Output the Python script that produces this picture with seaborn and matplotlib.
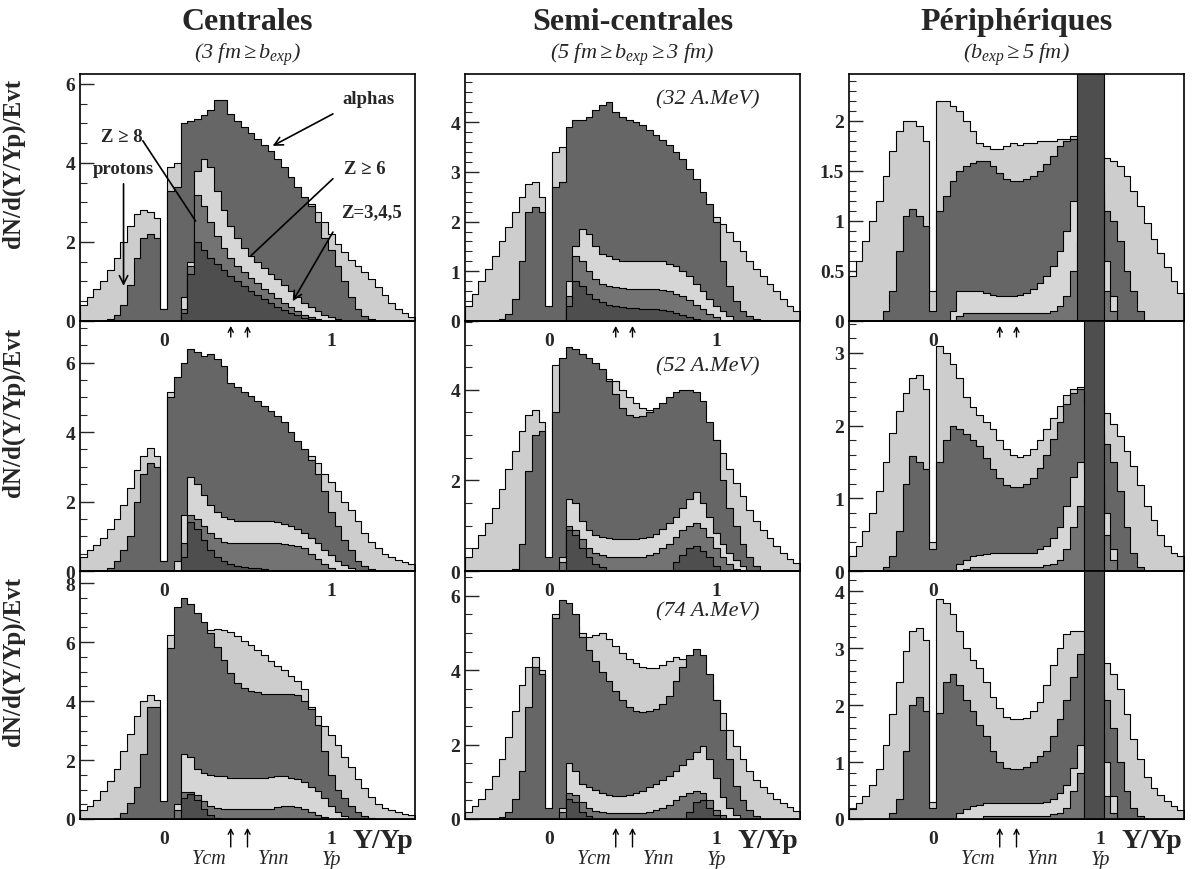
import numpy as np
import pandas as pd
import matplotlib
matplotlib.use("Agg")
import matplotlib.pyplot as plt
import seaborn as sns
from matplotlib.ticker import MultipleLocator, FormatStrFormatter

sns.set_style("ticks")
plt.rcParams['font.family'] = ['Liberation Serif', 'DejaVu Serif']
plt.rcParams['font.weight'] = 'bold'
plt.rcParams['mathtext.fontset'] = 'custom'
plt.rcParams['mathtext.it'] = 'Liberation Serif:italic:normal'
plt.rcParams['mathtext.rm'] = 'Liberation Serif:italic:normal'
plt.rcParams['mathtext.default'] = 'it'
plt.rcParams['mathtext.fallback'] = 'stix'

# bins of Y/Yp, 0.04 wide from -0.5 to 1.5 (50 bins)
n_bins = 50
y_range = (-0.5, 1.5)
edges = np.linspace(y_range[0], y_range[1], n_bins + 1)
centers = (edges[:-1] + edges[1:]) / 2

col_titles = ['Centrales', 'Semi-centrales', 'Périphériques']
col_sub = [r'$\mathit{(3\ fm}\geq\mathit{b_{exp})}$',
           r'$\mathit{(5\ fm}{\geq}\mathit{b_{exp}}{\geq}\mathit{3\ fm)}$',
           r'$\mathit{(b_{exp}}{\geq}\mathit{5\ fm)}$']
energies = ['(32 A.MeV)', '(52 A.MeV)', '(74 A.MeV)']

# ---------------- 32 A.MeV ----------------
# centrales
p_c32 = [0.4, 0.6, 0.8, 1.0, 1.3, 1.6, 2.0, 2.4, 2.7, 2.8,
         2.75, 2.6, 0.3, 3.9, 4.0, 3.9, 3.8, 3.7, 3.6, 3.5,
         3.45, 3.4, 3.35, 3.3, 3.3, 3.25, 3.2, 3.2, 3.15, 3.1,
         3.05, 3.0, 2.95, 2.95, 2.95, 2.75, 2.5, 2.2, 1.95, 1.75,
         1.55, 1.4, 1.25, 1.05, 0.85, 0.65, 0.45, 0.3, 0.2, 0.1]
a_c32 = [0, 0, 0, 0, 0.05, 0.15, 0.4, 0.9, 1.6, 2.1,
         2.2, 2.1, 0.3, 3.3, 3.4, 5.0, 5.05, 5.1, 5.2, 5.35,
         5.6, 5.6, 5.25, 5.05, 4.9, 4.75, 4.6, 4.45, 4.3, 4.1,
         3.9, 3.65, 3.4, 3.15, 2.9, 2.5, 2.1, 1.8, 1.4, 1.0,
         0.6, 0.3, 0.12, 0.04, 0, 0, 0, 0, 0, 0]
z345_c32 = [0, 0, 0, 0, 0, 0, 0, 0, 0, 0,
            0, 0, 0, 0, 0, 0.6, 1.5, 3.8, 4.1, 3.9,
            3.3, 2.8, 2.4, 2.1, 1.85, 1.65, 1.5, 1.35, 1.2, 1.05,
            0.9, 0.75, 0.6, 0.45, 0.35, 0.25, 0.15, 0.1, 0.05, 0,
            0, 0, 0, 0, 0, 0, 0, 0, 0, 0]
z6_c32 = [0, 0, 0, 0, 0, 0, 0, 0, 0, 0,
          0, 0, 0, 0, 0, 0.3, 1.4, 3.2, 2.9, 2.5,
          2.15, 1.85, 1.6, 1.4, 1.25, 1.1, 0.95, 0.82, 0.7, 0.58,
          0.46, 0.35, 0.25, 0.16, 0.1, 0.05, 0, 0, 0, 0,
          0, 0, 0, 0, 0, 0, 0, 0, 0, 0]
z8_c32 = [0, 0, 0, 0, 0, 0, 0, 0, 0, 0,
          0, 0, 0, 0, 0, 0.2, 1.2, 2.0, 1.8, 1.6,
          1.45, 1.3, 1.15, 1.0, 0.88, 0.76, 0.65, 0.55, 0.45, 0.36,
          0.28, 0.2, 0.14, 0.08, 0.04, 0, 0, 0, 0, 0,
          0, 0, 0, 0, 0, 0, 0, 0, 0, 0]
# semi-centrales
p_s32 = [0.3, 0.55, 0.8, 1.05, 1.3, 1.6, 1.9, 2.2, 2.5, 2.75,
         2.8, 2.5, 0.2, 3.4, 3.5, 3.4, 3.35, 3.3, 3.25, 3.2,
         3.15, 3.1, 3.05, 3.0, 2.95, 2.9, 2.85, 2.8, 2.75, 2.7,
         2.65, 2.6, 2.5, 2.45, 2.4, 2.3, 2.2, 2.1, 1.95, 1.8,
         1.6, 1.4, 1.2, 1.05, 0.9, 0.75, 0.6, 0.45, 0.3, 0.2]
a_s32 = [0, 0, 0, 0, 0, 0.05, 0.15, 0.45, 1.2, 2.2,
         2.3, 2.2, 0.3, 2.7, 2.8, 3.9, 4.05, 4.05, 4.1, 4.25,
         4.35, 4.4, 4.2, 4.1, 4.05, 4.0, 3.95, 3.85, 3.75, 3.65,
         3.55, 3.4, 3.25, 3.05, 2.85, 2.6, 2.35, 2.0, 1.2, 0.7,
         0.4, 0.2, 0.1, 0.05, 0, 0, 0, 0, 0, 0]
z345_s32 = [0, 0, 0, 0, 0, 0, 0, 0, 0, 0,
            0, 0, 0, 0, 0, 0.8, 1.5, 1.85, 1.75, 1.5,
            1.35, 1.3, 1.25, 1.2, 1.2, 1.2, 1.2, 1.2, 1.2, 1.2,
            1.15, 1.1, 1.0, 0.9, 0.75, 0.6, 0.45, 0.3, 0.2, 0.1,
            0, 0, 0, 0, 0, 0, 0, 0, 0, 0]
z6_s32 = [0, 0, 0, 0, 0, 0, 0, 0, 0, 0,
          0, 0, 0, 0, 0, 0.5, 1.3, 1.2, 1.0, 0.85,
          0.75, 0.7, 0.68, 0.66, 0.65, 0.65, 0.65, 0.65, 0.65, 0.63,
          0.6, 0.55, 0.5, 0.42, 0.33, 0.25, 0.15, 0.08, 0, 0,
          0, 0, 0, 0, 0, 0, 0, 0, 0, 0]
z8_s32 = [0, 0, 0, 0, 0, 0, 0, 0, 0, 0,
          0, 0, 0, 0, 0, 0.3, 0.8, 0.7, 0.55, 0.45,
          0.38, 0.33, 0.3, 0.28, 0.27, 0.26, 0.25, 0.25, 0.25, 0.22,
          0.2, 0.16, 0.12, 0.08, 0.04, 0, 0, 0, 0, 0,
          0, 0, 0, 0, 0, 0, 0, 0, 0, 0]
# peripheriques
p_p32 = [0.45, 0.6, 0.8, 1.0, 1.2, 1.45, 1.7, 1.9, 2.0, 2.0,
         1.95, 1.8, 0.3, 2.2, 2.2, 2.15, 2.1, 2.0, 1.9, 1.78,
         1.75, 1.72, 1.72, 1.75, 1.78, 1.76, 1.78, 1.78, 1.8, 1.8,
         1.8, 1.82, 1.82, 1.85, 1.85, 1.85, 1.8, 1.7, 1.63, 1.6,
         1.55, 1.45, 1.3, 1.15, 0.98, 0.82, 0.68, 0.54, 0.4, 0.28]
a_p32 = [0, 0, 0, 0, 0, 0.1, 0.3, 0.7, 1.05, 1.12,
         1.05, 0.95, 0.1, 1.1, 1.25, 1.4, 1.5, 1.55, 1.58, 1.6,
         1.6, 1.55, 1.48, 1.42, 1.4, 1.4, 1.42, 1.45, 1.5, 1.57,
         1.65, 1.75, 1.8, 1.82, 1.85, 1.7, 1.5, 1.3, 1.1, 1.0,
         0.8, 0.5, 0.3, 0.1, 0, 0, 0, 0, 0, 0]
z345_p32 = [0, 0, 0, 0, 0, 0, 0, 0, 0, 0,
            0, 0, 0, 0, 0, 0.1, 0.3, 0.3, 0.3, 0.3,
            0.28, 0.26, 0.25, 0.25, 0.25, 0.26, 0.28, 0.32, 0.38, 0.45,
            0.55, 0.7, 0.9, 1.2, 1.2, 1.2, 1.2, 1.2, 0.6, 0.25,
            0, 0, 0, 0, 0, 0, 0, 0, 0, 0]
z6_p32 = [0, 0, 0, 0, 0, 0, 0, 0, 0, 0,
          0, 0, 0, 0, 0, 0, 0.05, 0.08, 0.08, 0.08,
          0.08, 0.08, 0.08, 0.08, 0.08, 0.08, 0.08, 0.08, 0.08, 0.08,
          0.1, 0.15, 0.25, 0.5, 0.8, 0.8, 0.8, 0.8, 0.3, 0.1,
          0, 0, 0, 0, 0, 0, 0, 0, 0, 0]
z8_p32 = [0, 0, 0, 0, 0, 0, 0, 0, 0, 0,
          0, 0, 0, 0, 0, 0, 0, 0, 0, 0,
          0, 0, 0, 0, 0, 0, 0, 0, 0, 0,
          0, 0, 0, 0, 5.0, 5.0, 5.0, 5.0, 0, 0,
          0, 0, 0, 0, 0, 0, 0, 0, 0, 0]

# ---------------- 52 A.MeV ----------------
p_c52 = [0.4, 0.6, 0.75, 0.95, 1.2, 1.5, 1.9, 2.4, 2.9, 3.3,
         3.55, 3.3, 0.3, 5.15, 5.2, 5.1, 5.0, 4.95, 4.9, 4.85,
         4.8, 4.7, 4.6, 4.5, 4.4, 4.3, 4.2, 4.1, 4.0, 3.9,
         3.8, 3.7, 3.6, 3.45, 3.3, 3.1, 2.8, 2.55, 2.3, 2.0,
         1.75, 1.45, 1.1, 0.85, 0.65, 0.5, 0.4, 0.32, 0.25, 0.2]
a_c52 = [0, 0, 0, 0, 0.1, 0.3, 0.6, 1.0, 2.0, 2.8,
         3.1, 3.0, 0.3, 5.0, 5.6, 6.0, 6.4, 6.3, 6.2, 6.25,
         6.1, 5.9, 5.4, 5.3, 5.15, 5.05, 4.9, 4.75, 4.6, 4.45,
         4.3, 4.0, 3.75, 3.5, 3.2, 2.8, 2.3, 1.7, 1.3, 0.9,
         0.6, 0.3, 0.15, 0.05, 0, 0, 0, 0, 0, 0]
z345_c52 = [0, 0, 0, 0, 0, 0, 0, 0, 0, 0,
            0, 0, 0, 0, 0.3, 1.6, 2.7, 2.5, 2.2, 1.9,
            1.7, 1.55, 1.5, 1.45, 1.45, 1.45, 1.45, 1.45, 1.45, 1.4,
            1.35, 1.3, 1.2, 1.1, 0.95, 0.8, 0.6, 0.45, 0.3, 0.18,
            0.08, 0, 0, 0, 0, 0, 0, 0, 0, 0]
z6_c52 = [0, 0, 0, 0, 0, 0, 0, 0, 0, 0,
          0, 0, 0, 0, 0, 0.8, 1.6, 1.5, 1.3, 1.1,
          0.95, 0.85, 0.8, 0.8, 0.8, 0.8, 0.8, 0.8, 0.8, 0.8,
          0.78, 0.75, 0.72, 0.65, 0.5, 0.35, 0.2, 0.1, 0, 0,
          0, 0, 0, 0, 0, 0, 0, 0, 0, 0]
z8_c52 = [0, 0, 0, 0, 0, 0, 0, 0, 0, 0,
          0, 0, 0, 0, 0, 0.4, 1.4, 1.2, 0.9, 0.6,
          0.4, 0.3, 0.2, 0.15, 0.12, 0.1, 0.08, 0.05, 0, 0,
          0, 0, 0, 0, 0, 0, 0, 0, 0, 0,
          0, 0, 0, 0, 0, 0, 0, 0, 0, 0]
p_s52 = [0.3, 0.5, 0.8, 1.05, 1.4, 1.8, 2.25, 2.65, 3.1, 3.45,
         3.55, 3.3, 0.2, 4.55, 4.6, 4.6, 4.55, 4.5, 4.4, 4.35,
         4.3, 4.25, 4.2, 4.0, 3.85, 3.7, 3.6, 3.55, 3.5, 3.45,
         3.4, 3.4, 3.35, 3.3, 3.25, 3.2, 3.1, 2.9, 2.6, 2.25,
         1.95, 1.65, 1.35, 1.1, 0.9, 0.72, 0.55, 0.4, 0.27, 0.17]
a_s52 = [0, 0, 0, 0, 0, 0, 0, 0.05, 0.6, 2.2,
         3.0, 3.1, 0.3, 3.5, 4.7, 4.95, 4.9, 4.8, 4.7, 4.6,
         4.45, 4.2, 3.9, 3.6, 3.45, 3.4, 3.42, 3.5, 3.6, 3.7,
         3.85, 3.95, 4.0, 4.0, 3.95, 3.75, 3.3, 2.9, 2.0, 1.4,
         1.0, 0.6, 0.3, 0.1, 0, 0, 0, 0, 0, 0]
z345_s52 = [0, 0, 0, 0, 0, 0, 0, 0, 0, 0,
            0, 0, 0, 0, 0.3, 1.6, 1.5, 1.1, 0.9, 0.8,
            0.75, 0.72, 0.7, 0.7, 0.7, 0.7, 0.72, 0.75, 0.82, 0.92,
            1.05, 1.2, 1.4, 1.6, 1.75, 1.5, 1.2, 0.85, 0.6, 0.4,
            0.25, 0.1, 0, 0, 0, 0, 0, 0, 0, 0]
z6_s52 = [0, 0, 0, 0, 0, 0, 0, 0, 0, 0,
          0, 0, 0, 0, 0.2, 1.0, 0.9, 0.7, 0.5, 0.4,
          0.35, 0.3, 0.3, 0.3, 0.3, 0.3, 0.32, 0.35, 0.4, 0.5,
          0.6, 0.75, 0.9, 1.0, 1.05, 0.95, 0.75, 0.5, 0.3, 0.15,
          0.05, 0, 0, 0, 0, 0, 0, 0, 0, 0]
z8_s52 = [0, 0, 0, 0, 0, 0, 0, 0, 0, 0,
          0, 0, 0, 0, 0, 0.9, 0.8, 0.5, 0.3, 0.15,
          0.08, 0, 0, 0, 0, 0, 0, 0, 0, 0,
          0, 0.2, 0.35, 0.5, 0.55, 0.45, 0.3, 0.1, 0, 0,
          0, 0, 0, 0, 0, 0, 0, 0, 0, 0]
p_p52 = [0.2, 0.35, 0.55, 0.8, 1.1, 1.5, 1.9, 2.2, 2.45, 2.65,
         2.7, 2.5, 0.4, 3.1, 3.0, 2.85, 2.65, 2.4, 2.25, 2.15,
         2.05, 1.95, 1.8, 1.68, 1.6, 1.57, 1.6, 1.68, 1.8, 1.95,
         2.1, 2.27, 2.42, 2.5, 2.53, 2.5, 2.4, 2.3, 2.18, 2.02,
         1.86, 1.65, 1.45, 1.18, 0.9, 0.7, 0.5, 0.35, 0.25, 0.2]
a_p52 = [0, 0, 0, 0, 0, 0.05, 0.2, 0.55, 1.2, 1.58,
         1.5, 1.4, 0.3, 1.5, 1.8, 2.0, 1.95, 1.88, 1.8, 1.72,
         1.55, 1.4, 1.28, 1.18, 1.15, 1.15, 1.2, 1.28, 1.42, 1.6,
         1.82, 2.05, 2.3, 2.45, 2.5, 2.3, 2.1, 1.9, 1.75, 1.5,
         1.1, 0.6, 0.25, 0.05, 0, 0, 0, 0, 0, 0]
z345_p52 = [0, 0, 0, 0, 0, 0, 0, 0, 0, 0,
            0, 0, 0, 0, 0, 0, 0.1, 0.15, 0.2, 0.22,
            0.24, 0.25, 0.25, 0.25, 0.25, 0.25, 0.25, 0.25, 0.3, 0.35,
            0.45, 0.6, 0.9, 1.3, 1.5, 1.4, 1.3, 1.2, 0.8, 0.3,
            0, 0, 0, 0, 0, 0, 0, 0, 0, 0]
z6_p52 = [0, 0, 0, 0, 0, 0, 0, 0, 0, 0,
          0, 0, 0, 0, 0, 0, 0, 0.03, 0.05, 0.05,
          0.05, 0.05, 0.05, 0.05, 0.05, 0.05, 0.05, 0.05, 0.05, 0.08,
          0.1, 0.15, 0.3, 0.6, 0.9, 1.0, 1.0, 1.0, 0.5, 0.15,
          0, 0, 0, 0, 0, 0, 0, 0, 0, 0]
z8_p52 = [0, 0, 0, 0, 0, 0, 0, 0, 0, 0,
          0, 0, 0, 0, 0, 0, 0, 0, 0, 0,
          0, 0, 0, 0, 0, 0, 0, 0, 0, 0,
          0, 0, 0, 0, 0, 6.0, 6.0, 6.0, 0, 0,
          0, 0, 0, 0, 0, 0, 0, 0, 0, 0]

# ---------------- 74 A.MeV ----------------
p_c74 = [0.3, 0.45, 0.65, 0.95, 1.3, 1.7, 2.3, 2.9, 3.5, 4.0,
         4.2, 4.05, 0.3, 6.25, 6.3, 6.35, 6.4, 6.4, 6.4, 6.4,
         6.45, 6.4, 6.35, 6.2, 6.05, 5.9, 5.75, 5.55, 5.35, 5.2,
         5.05, 4.85, 4.7, 4.4, 3.8, 3.5, 3.15, 2.85, 2.5, 2.1,
         1.75, 1.35, 1.05, 0.75, 0.5, 0.38, 0.3, 0.25, 0.18, 0.12]
a_c74 = [0, 0, 0, 0, 0, 0.05, 0.2, 0.55, 1.1, 2.2,
         3.8, 3.8, 0.6, 5.8, 7.2, 7.5, 7.3, 7.0, 6.7, 6.3,
         5.85, 5.4, 4.95, 4.6, 4.45, 4.35, 4.3, 4.25, 4.25, 4.25,
         4.25, 4.25, 4.2, 4.0, 3.75, 3.2, 2.3, 1.5, 1.0, 0.7,
         0.45, 0.25, 0.1, 0.03, 0, 0, 0, 0, 0, 0]
z345_c74 = [0, 0, 0, 0, 0, 0, 0, 0, 0, 0,
            0, 0, 0, 0, 0.5, 2.2, 2.1, 1.7, 1.55, 1.5,
            1.45, 1.45, 1.4, 1.4, 1.4, 1.4, 1.4, 1.4, 1.42, 1.45,
            1.45, 1.4, 1.35, 1.25, 1.1, 0.95, 0.7, 0.45, 0.25, 0.1,
            0, 0, 0, 0, 0, 0, 0, 0, 0, 0]
z6_c74 = [0, 0, 0, 0, 0, 0, 0, 0, 0, 0,
          0, 0, 0, 0, 0.3, 0.9, 0.9, 0.8, 0.6, 0.45,
          0.38, 0.35, 0.35, 0.35, 0.35, 0.35, 0.35, 0.35, 0.35, 0.4,
          0.45, 0.45, 0.42, 0.35, 0.25, 0.15, 0.08, 0, 0, 0,
          0, 0, 0, 0, 0, 0, 0, 0, 0, 0]
z8_c74 = [0, 0, 0, 0, 0, 0, 0, 0, 0, 0,
          0, 0, 0, 0, 0, 0.7, 0.85, 0.65, 0.35, 0.15,
          0.05, 0, 0, 0, 0, 0, 0, 0, 0, 0,
          0, 0, 0, 0, 0, 0, 0, 0, 0, 0,
          0, 0, 0, 0, 0, 0, 0, 0, 0, 0]
p_s74 = [0.2, 0.35, 0.55, 0.8, 1.15, 1.6, 2.2, 2.9, 3.6, 4.1,
         4.35, 4.0, 0.2, 5.5, 5.5, 5.4, 5.2, 5.0, 4.9, 4.95,
         5.0, 4.85, 4.65, 4.45, 4.3, 4.2, 4.1, 4.05, 4.05, 4.15,
         4.25, 4.35, 4.3, 4.2, 4.1, 3.9, 3.6, 3.2, 2.85, 2.4,
         1.95, 1.6, 1.3, 1.05, 0.85, 0.7, 0.55, 0.42, 0.32, 0.22]
a_s74 = [0, 0, 0, 0, 0, 0.05, 0.2, 0.55, 1.3, 3.0,
         4.1, 3.9, 0.3, 5.4, 5.9, 5.8, 5.5, 4.9, 4.55, 4.25,
         3.95, 3.7, 3.45, 3.2, 3.0, 2.9, 2.87, 2.9, 2.96, 3.1,
         3.3, 3.7, 4.1, 4.4, 4.57, 4.4, 3.9, 3.2, 2.4, 1.6,
         0.9, 0.5, 0.25, 0.08, 0, 0, 0, 0, 0, 0]
z345_s74 = [0, 0, 0, 0, 0, 0, 0, 0, 0, 0,
            0, 0, 0, 0, 0.3, 1.5, 1.3, 0.95, 0.85, 0.78,
            0.7, 0.65, 0.62, 0.62, 0.65, 0.7, 0.75, 0.85, 0.95, 1.05,
            1.15, 1.3, 1.45, 1.6, 1.8, 1.95, 1.6, 1.1, 0.6, 0.3,
            0.1, 0, 0, 0, 0, 0, 0, 0, 0, 0]
z6_s74 = [0, 0, 0, 0, 0, 0, 0, 0, 0, 0,
          0, 0, 0, 0, 0.2, 0.7, 0.65, 0.45, 0.3, 0.22,
          0.18, 0.15, 0.15, 0.15, 0.15, 0.15, 0.17, 0.2, 0.25, 0.3,
          0.38, 0.5, 0.62, 0.7, 0.75, 0.7, 0.5, 0.25, 0.1, 0,
          0, 0, 0, 0, 0, 0, 0, 0, 0, 0]
z8_s74 = [0, 0, 0, 0, 0, 0, 0, 0, 0, 0,
          0, 0, 0, 0, 0, 0.55, 0.45, 0.2, 0.08, 0,
          0, 0, 0, 0, 0, 0, 0, 0, 0, 0,
          0, 0, 0, 0.2, 0.45, 0.5, 0.3, 0.1, 0, 0,
          0, 0, 0, 0, 0, 0, 0, 0, 0, 0]
p_p74 = [0.18, 0.28, 0.4, 0.6, 0.88, 1.3, 1.85, 2.4, 2.95, 3.3,
         3.35, 3.15, 0.3, 3.87, 3.8, 3.6, 3.3, 3.0, 2.8, 2.65,
         2.4, 2.15, 1.95, 1.8, 1.75, 1.75, 1.78, 1.9, 2.05, 2.35,
         2.7, 3.0, 3.25, 3.3, 3.3, 3.2, 3.0, 2.85, 2.75, 2.55,
         2.28, 1.85, 1.4, 1.05, 0.74, 0.55, 0.42, 0.32, 0.22, 0.16]
a_p74 = [0, 0, 0, 0, 0, 0, 0.1, 0.35, 1.2, 2.0,
         2.15, 1.9, 0.2, 1.87, 2.4, 2.55, 2.35, 2.1, 1.9, 1.65,
         1.45, 1.2, 1.0, 0.9, 0.87, 0.88, 0.92, 1.0, 1.1, 1.2,
         1.45, 1.75, 2.1, 2.5, 2.9, 2.9, 2.5, 2.2, 2.1, 1.6,
         1.0, 0.5, 0.2, 0.05, 0, 0, 0, 0, 0, 0]
z345_p74 = [0, 0, 0, 0, 0, 0, 0, 0, 0, 0,
            0, 0, 0, 0, 0, 0, 0.1, 0.18, 0.22, 0.25,
            0.28, 0.28, 0.28, 0.28, 0.28, 0.28, 0.28, 0.28, 0.28, 0.3,
            0.35, 0.45, 0.6, 0.9, 1.3, 1.5, 1.5, 1.5, 1.0, 0.4,
            0, 0, 0, 0, 0, 0, 0, 0, 0, 0]
z6_p74 = [0, 0, 0, 0, 0, 0, 0, 0, 0, 0,
          0, 0, 0, 0, 0, 0, 0, 0, 0, 0,
          0.05, 0.05, 0.05, 0.05, 0.05, 0.05, 0.05, 0.05, 0.05, 0.05,
          0.08, 0.1, 0.2, 0.5, 0.8, 0.9, 0.9, 0.9, 0.4, 0.1,
          0, 0, 0, 0, 0, 0, 0, 0, 0, 0]
z8_p74 = [0, 0, 0, 0, 0, 0, 0, 0, 0, 0,
          0, 0, 0, 0, 0, 0, 0, 0, 0, 0,
          0, 0, 0, 0, 0, 0, 0, 0, 0, 0,
          0, 0, 0, 0, 0, 8.0, 8.0, 8.0, 0, 0,
          0, 0, 0, 0, 0, 0, 0, 0, 0, 0]

panels = [
    [(p_c32, a_c32, z345_c32, z6_c32, z8_c32),
     (p_s32, a_s32, z345_s32, z6_s32, z8_s32),
     (p_p32, a_p32, z345_p32, z6_p32, z8_p32)],
    [(p_c52, a_c52, z345_c52, z6_c52, z8_c52),
     (p_s52, a_s52, z345_s52, z6_s52, z8_s52),
     (p_p52, a_p52, z345_p52, z6_p52, z8_p52)],
    [(p_c74, a_c74, z345_c74, z6_c74, z8_c74),
     (p_s74, a_s74, z345_s74, z6_s74, z8_s74),
     (p_p74, a_p74, z345_p74, z6_p74, z8_p74)],
]

ylims = [[6.25, 4.97, 2.47], [7.2, 5.52, 3.44], [8.42, 6.67, 4.36]]
majors = [[2, 1, 0.5], [2, 2, 1], [2, 2, 1]]
minors = [[0.5, 0.2, 0.1], [0.5, 0.5, 0.2], [0.5, 0.5, 0.2]]

# protons, alphas, Z=3,4,5, Z>=6, Z>=8
fills = ['#cdcdcd', '#666666', '#d6d6d6', '#737373', '#4e4e4e']

fig = plt.figure(figsize=(11.97, 8.70), dpi=100)
lefts = [80 / 1197, 465 / 1197, 849 / 1197]
width = 335 / 1197
rows = [(0.6299, 0.2839), (0.3425, 0.2874), (0.0575, 0.2851)]

axes = []
for r in range(3):
    for c in range(3):
        ax = fig.add_axes([lefts[c], rows[r][0], width, rows[r][1]])
        ax.set_facecolor('none')
        for vals, col in zip(panels[r][c], fills):
            df = pd.DataFrame({'y': centers, 'n': np.asarray(vals, dtype=float)})
            sns.histplot(data=df, x='y', weights='n', bins=n_bins, binrange=y_range,
                         element='step', fill=True, color=col, alpha=1,
                         edgecolor='black', linewidth=0.8, ax=ax)
        ax.set_xlim(-0.5, 1.5)
        ax.set_ylim(0, ylims[r][c])
        ax.yaxis.set_major_locator(MultipleLocator(majors[r][c]))
        ax.yaxis.set_minor_locator(MultipleLocator(minors[r][c]))
        ax.yaxis.set_major_formatter(FormatStrFormatter('%g'))
        ax.set_xticks([0, 1])
        ax.set_xticklabels(['0', '1'])
        ax.tick_params(axis='x', length=0, pad=8, labelsize=14)
        ax.tick_params(axis='y', which='major', direction='in', length=10,
                       width=1, labelsize=14, right=False)
        ax.tick_params(axis='y', which='minor', direction='in', length=5,
                       width=0.8, right=False)
        for sp in ax.spines.values():
            sp.set_linewidth(1.2)
            sp.set_color('black')
        ax.set_xlabel('')
        if c == 0:
            ax.set_ylabel('dN/d(Y/Yp)/Evt', fontsize=18, fontweight='bold')
            ax.yaxis.set_label_coords(-0.165, 0.64)
        else:
            ax.set_ylabel('')
        trans = ax.get_xaxis_transform()
        if r in (0, 2):
            tip, tail = (-0.02, -0.065) if r == 0 else (-0.036, -0.113)
            for xv in (0.4, 0.5):
                ax.annotate('', xy=(xv, tip), xytext=(xv, tail), xycoords=trans,
                            textcoords=trans, annotation_clip=False,
                            arrowprops=dict(arrowstyle='->,head_length=0.35,head_width=0.18',
                                            lw=1, color='black', shrinkA=0, shrinkB=0))
        if r == 2:
            for xv, lab, yv in [(0.27, 'Ycm', -0.158), (0.655, 'Ynn', -0.158), (1.0, 'Yp', -0.165)]:
                ax.text(xv, yv, lab, transform=trans, ha='center', va='center',
                        fontsize=14.5, fontstyle='italic', fontweight='normal')
            ax.text(0.995, -0.085, 'Y/Yp', transform=ax.transAxes, ha='right',
                    va='center', fontsize=20, fontweight='bold')
        if c == 1:
            ypos = [0.9, 0.82, 0.84][r]
            ax.text(0.726, ypos, energies[r], transform=ax.transAxes, ha='center',
                    va='center', fontsize=16, fontstyle='italic', fontweight='normal')
        axes.append(ax)

# labels in the central 32 A.MeV panel
ax = axes[0]
kw = dict(fontsize=13.5, fontweight='bold', ha='center', va='center')
ax.text(1.22, 5.62, 'alphas', **kw)
ax.text(-0.25, 4.68, 'Z ≥ 8', **kw)
ax.text(-0.24, 3.85, 'protons', **kw)
ax.text(1.2, 3.85, 'Z ≥ 6', **kw)
ax.text(1.24, 2.76, 'Z=3,4,5', **kw)
arr = dict(arrowstyle='->,head_length=0.6,head_width=0.3', lw=1.2, color='black',
           shrinkA=0, shrinkB=0)
seg = dict(arrowstyle='-', lw=1.2, color='black', shrinkA=0, shrinkB=0)
ax.annotate('', xy=(0.65, 4.43), xytext=(1.01, 5.24), arrowprops=arr)
ax.annotate('', xy=(-0.24, 0.89), xytext=(-0.24, 3.47), arrowprops=arr)
ax.annotate('', xy=(0.77, 0.5), xytext=(1.01, 2.25), arrowprops=arr)
ax.annotate('', xy=(0.19, 2.53), xytext=(-0.125, 4.56), arrowprops=seg)
ax.annotate('', xy=(0.52, 1.65), xytext=(1.01, 3.6), arrowprops=seg)

for c in range(3):
    xc = lefts[c] + width / 2
    fig.text(xc, 0.9736, col_titles[c], ha='center', va='center', fontsize=23,
             fontweight='bold')
    fig.text(xc, 0.937, col_sub[c], ha='center', va='center', fontsize=16,
             fontweight='normal')

fig.savefig('out.png', dpi=100)
